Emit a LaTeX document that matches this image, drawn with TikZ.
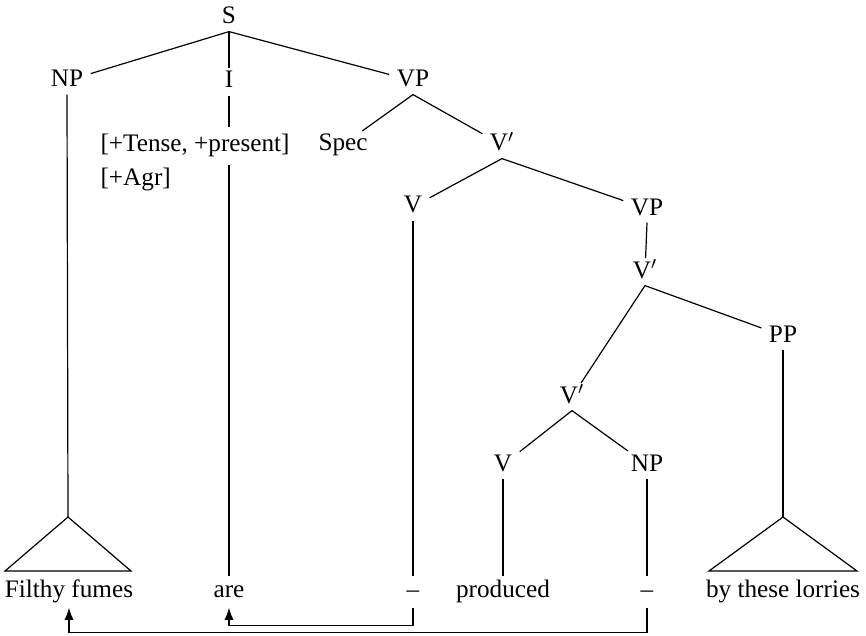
\documentclass[tikz,border=0pt]{standalone}
\usepackage{fontspec}
\setmainfont{Liberation Serif}
\usepackage{tikz}
\usetikzlibrary{
	arrows.meta,
	calc,
	positioning
}

\tikzset{
	cat/.style={inner sep=3.5pt, text height=0.62em, text depth=0pt, anchor=base},
	word/.style={inner xsep=3.5pt, inner ysep=3.3pt, text height=0.7em, text depth=0.18em, anchor=base},
	feat/.style={inner sep=3.5pt, anchor=base west},
	arr/.style={-{Latex[length=6pt,width=4.6pt]}}
}

\begin{document}
\begin{tikzpicture}[x=0.5pt, y=-0.5pt, line width=0.6pt, font=\fontsize{12.6}{16.5}\selectfont]
	\useasboundingbox (0,0) rectangle (866,636);
	% categories
	\node[cat] (S) at (229,24) {S};
	\node[cat] (NPs) at (67,87) {NP};
	\node[cat] (I) at (229,88) {I};
	\node[cat] (VPa) at (413,87) {VP};
	\node[cat] (Spec) at (343,151) {Spec};
	\node[cat] (Vba) at (502,151) {V$'$};
	\node[cat] (Va) at (413,213) {V};
	\node[cat] (VPb) at (647,215) {VP};
	\node[cat] (Vbb) at (645,278) {V$'$};
	\node[cat] (PP) at (783,342) {PP};
	\node[cat] (Vbc) at (572,403) {V$'$};
	\node[cat] (Vb) at (503,471) {V};
	\node[cat] (NPo) at (647,471) {NP};
	% features of I
	\node[feat] (tense) at (93,152) {[+Tense, +present]};
	\node[feat] (agr) at (93,185) {[+Agr]};
	% words
	\node[word] (fumes) at (69,597) {Filthy fumes};
	\node[word] (are) at (229,597) {are};
	\node[word] (gapa) at (413,597) {--};
	\node[word] (produced) at (503,597) {produced};
	\node[word] (gapb) at (647,597) {--};
	\node[word] (lorries) at (783,597) {by these lorries};
	% triangles
	\coordinate (ta) at (68,517);
	\coordinate (tb) at (783,517);
	\foreach \t/\w in {ta/63, tb/74}
	\draw (\t) -- ++(-\w,54) -- ++(2*\w,0) -- cycle;
	% branches
	\foreach \a/\b in {S/NPs, S/I, S/VPa, VPa/Spec, VPa/Vba, Vba/Va, Vba/VPb,
		Va/gapa, VPb/Vbb, Vbb/Vbc, Vbb/PP, Vbc/Vb, Vbc/NPo, Vb/produced, NPo/gapb}
	\draw (\a.south) -- (\b);
	\draw (NPs.south) -- (ta);
	\draw (PP.south) -- (tb);
	\draw (I.south) -- (I |- tense.north);
	\draw (I |- tense.south) -- (are);
	% movement
	\draw[arr] (gapa.south) -- ++(0,18) -| (are.south);
	\draw[arr] (gapb.south) -- ++(0,25) -| (fumes.south);
\end{tikzpicture}
\end{document}
